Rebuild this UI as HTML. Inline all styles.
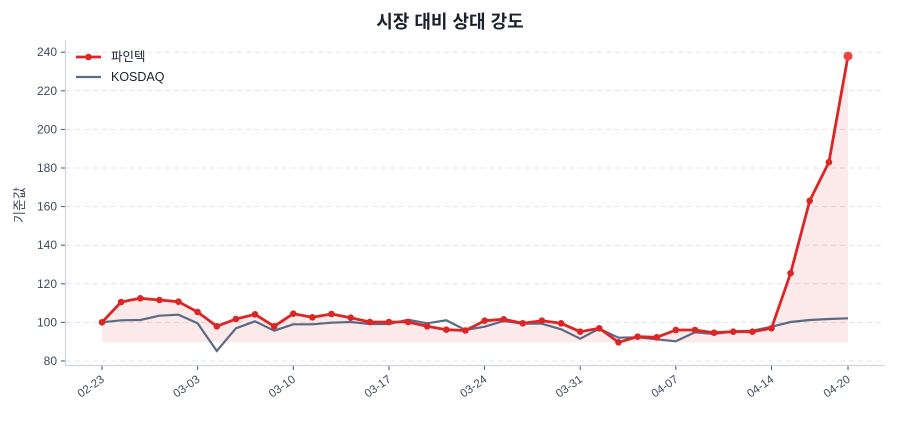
<!DOCTYPE html>
<html><head><meta charset="utf-8"><style>
body{margin:0;background:#fff}
svg text{font-family:"Liberation Sans","Noto Sans CJK KR",sans-serif}
</style></head><body>
<svg id="c" width="900" height="420" xmlns="http://www.w3.org/2000/svg"></svg>
<script>
const X=i=>102+i*746/39, Y=v=>322.4-(v-100)*1.93;
const red=[322.3,302,298.3,300,301.7,312,326.3,319,314.3,326.3,313.7,317.3,314,317.7,322,322,322,326.3,329.7,330.5,320.7,319.3,323.3,320.7,323.3,331.7,328.3,342.3,336.7,337.3,330,330,332.7,331.7,331.7,328.3,Y(125.5),Y(163),Y(183),Y(238)];
const gray=[322.3,320.3,320,315.7,314.7,323.3,351,328.3,321.3,330.7,324.3,324.3,322.7,322,324,324,319.7,323.3,320.3,330,326.7,321,323.7,323.7,329.3,338.7,328.7,337.7,337.3,339.3,341.3,332.3,334,331.3,330.7,326.7,322,320,319,318.3];
let s='';
for(let v=80;v<=240;v+=20){const y=Y(v).toFixed(1);
s+=`<line x1="66" x2="885" y1="${y}" y2="${y}" stroke="#e2e4e8" stroke-dasharray="5,4" stroke-width="1"/>`;
s+=`<line x1="61" x2="65" y1="${y}" y2="${y}" stroke="#4a5568" stroke-width="1"/>`;
s+=`<text x="57" y="${+y+4}" font-size="12" fill="#3f4a5a" text-anchor="end">${v}</text>`;}
let pr=red.map((y,i)=>X(i).toFixed(1)+','+(+y).toFixed(1)).join(' ');
s+=`<polygon points="${pr} ${X(39)},342.3 ${X(0)},342.3" fill="#e02424" fill-opacity="0.1"/>`;
s+=`<polyline points="${gray.map((y,i)=>X(i).toFixed(1)+','+y).join(' ')}" fill="none" stroke="#5a6a85" stroke-width="2.2"/>`;
s+=`<polyline points="${pr}" fill="none" stroke="#dc2626" stroke-width="2.8" stroke-linejoin="round"/>`;
red.forEach((y,i)=>{s+=`<circle cx="${X(i).toFixed(1)}" cy="${(+y).toFixed(1)}" r="${i==39?4.5:3.3}" fill="${i==39?'#ef4444':'#dc2626'}"/>`;});
s+=`<line x1="65.5" x2="65.5" y1="40" y2="366" stroke="#cfd4dc" stroke-width="1.2"/>`;
s+=`<line x1="65" x2="885" y1="365.5" y2="365.5" stroke="#cfd4dc" stroke-width="1.2"/>`;
const lab=['02-23','03-03','03-10','03-17','03-24','03-31','04-07','04-14'];
lab.forEach((t,k)=>{const x=X(k*5);s+=`<line x1="${x}" x2="${x}" y1="366" y2="370" stroke="#4a5568"/><text transform="translate(${x+3},381) rotate(-35)" font-size="11.5" fill="#3f4a5a" text-anchor="end">${t}</text>`;});
{const x=X(39);s+=`<line x1="${x}" x2="${x}" y1="366" y2="370" stroke="#4a5568"/><text transform="translate(${x+3},381) rotate(-35)" font-size="11.5" fill="#3f4a5a" text-anchor="end">04-20</text>`;}
s+=`<text x="450" y="28" font-size="18" font-weight="bold" fill="#1a202c" text-anchor="middle">시장 대비 상대 강도</text>`;
s+=`<text transform="translate(24,205) rotate(-90)" font-size="13" fill="#3f4a5a" text-anchor="middle">기준값</text>`;
s+=`<line x1="76" x2="101" y1="57" y2="57" stroke="#dc2626" stroke-width="2.8"/><circle cx="88.5" cy="57" r="3.3" fill="#dc2626"/><text x="111" y="61" font-size="12.5" fill="#1a202c">파인텍</text>`;
s+=`<line x1="76" x2="101" y1="77" y2="77" stroke="#5a6a85" stroke-width="2.2"/><text x="111" y="81" font-size="12.5" fill="#1a202c">KOSDAQ</text>`;
document.getElementById('c').innerHTML=s;
</script>
</body></html>
